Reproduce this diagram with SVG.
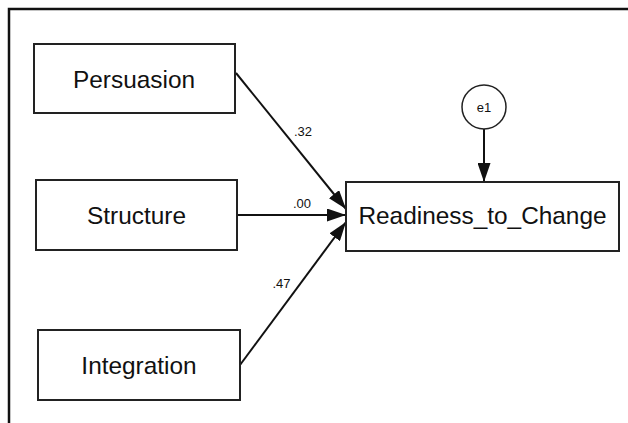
<svg xmlns="http://www.w3.org/2000/svg" width="628" height="423" viewBox="0 0 628 423">
  <style>
    .box { fill: #ffffff; stroke: #222222; stroke-width: 2; }
    .lbl { font-family: "Liberation Sans", Arial, sans-serif; font-size: 24.4px; fill: #111111; text-anchor: middle; }
    .coef { font-family: "Liberation Sans", Arial, sans-serif; font-size: 13px; fill: #111111; text-anchor: middle; }
    .edge { stroke: #111111; stroke-width: 2; fill: none; marker-end: url(#arrow); }
  </style>
  <defs>
    <marker id="arrow" viewBox="0 0 19 13" refX="19" refY="6.5" markerWidth="19" markerHeight="13" markerUnits="userSpaceOnUse" orient="auto">
      <path d="M0,0 L19,6.5 L0,13 Z" fill="#111111"/>
    </marker>
  </defs>
  <rect width="628" height="423" fill="#ffffff"/>
  <!-- outer frame (top and left edges only) -->
  <path d="M9,423 L9,9 L628,9" fill="none" stroke="#111111" stroke-width="2.5"/>

  <g id="connectors">
    <line class="edge" x1="236" y1="73" x2="346" y2="209"/>
    <line class="edge" x1="237" y1="215" x2="346" y2="215"/>
    <line class="edge" x1="240" y1="365" x2="346" y2="222"/>
    <line class="edge" x1="484" y1="129" x2="484" y2="182"/>
    <text class="coef" x="303" y="136">.32</text>
    <text class="coef" x="302" y="208">.00</text>
    <text class="coef" x="281.5" y="288">.47</text>
  </g>

  <g id="persuasion">
    <rect class="box" x="34" y="44" width="201" height="69"/>
    <text class="lbl" x="134" y="88">Persuasion</text>
  </g>
  <g id="structure">
    <rect class="box" x="36" y="180" width="201" height="70"/>
    <text class="lbl" x="136.5" y="224">Structure</text>
  </g>
  <g id="integration">
    <rect class="box" x="38" y="330" width="202" height="70"/>
    <text class="lbl" x="139" y="374">Integration</text>
  </g>
  <g id="readiness">
    <rect class="box" x="346" y="182" width="273" height="69"/>
    <text class="lbl" x="482.5" y="224">Readiness_to_Change</text>
  </g>
  <g id="e1">
    <circle cx="484" cy="107" r="22" fill="#ffffff" stroke="#222222" stroke-width="1.5"/>
    <text class="coef" x="484" y="112" font-size="14.5">e1</text>
  </g>
</svg>
